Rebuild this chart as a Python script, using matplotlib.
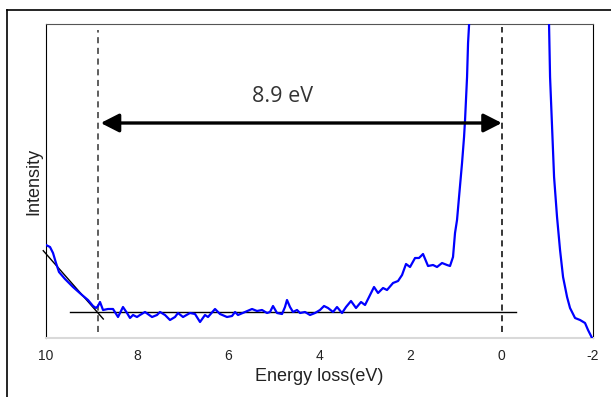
import matplotlib.pyplot as plt
from matplotlib.lines import Line2D

# spectrum (energy loss in eV, intensity in arb. units)
energy = [10.00, 9.912, 9.846, 9.781, 9.715, 9.583, 9.408, 9.210, 9.079, 8.969,
          8.903, 8.859, 8.815, 8.749, 8.640, 8.530, 8.420, 8.311, 8.223, 8.157,
          8.091, 8.004, 7.938, 7.828, 7.674, 7.565, 7.499, 7.389, 7.280, 7.170,
          7.104, 6.994, 6.841, 6.731, 6.621, 6.512, 6.446, 6.292, 6.183, 6.029,
          5.919, 5.853, 5.788, 5.634, 5.480, 5.371, 5.261, 5.151, 5.086, 5.020,
          4.932, 4.822, 4.757, 4.713, 4.647, 4.581, 4.493, 4.427, 4.318, 4.208,
          4.098, 3.989, 3.901, 3.813, 3.703, 3.616, 3.506, 3.418, 3.309, 3.199,
          3.089, 3.001, 2.913, 2.804, 2.716, 2.606, 2.519, 2.387, 2.277, 2.189,
          2.102, 2.014, 1.904, 1.817, 1.729, 1.619, 1.509, 1.422, 1.312, 1.202,
          1.137, 1.071, 1.027, 0.983, 0.939, 0.873, 0.829, 0.807, 0.763, 0.741,
          0.719, 0.588, 0.259, -0.158, -0.619, -0.948, -1.036, -1.058, -1.102,
          -1.146, -1.211, -1.277, -1.343, -1.431, -1.496, -1.606, -1.716, -1.825,
          -1.891, -1.979]
intensity = [93, 91, 85, 75, 66, 59, 51, 43, 38, 32,
             30, 32, 36, 28, 29, 29, 21, 31, 25, 20,
             23, 21, 23, 26, 21, 23, 26, 23, 18, 21,
             25, 21, 25, 24, 16, 23, 21, 29, 24, 21,
             22, 26, 23, 26, 29, 27, 28, 25, 26, 32,
             25, 24, 31, 38, 31, 26, 28, 25, 26, 23,
             25, 28, 32, 30, 26, 31, 25, 31, 37, 30,
             36, 33, 41, 51, 45, 50, 48, 55, 57, 63,
             74, 71, 80, 80, 84, 72, 73, 71, 75, 73,
             72, 81, 105, 118, 141, 175, 201, 218, 261, 295,
             313, 600, 1500, 2000, 1500, 500, 313, 261, 211,
             161, 121, 88, 61, 41, 30, 20, 18, 15,
             8, 0]

onset = 8.86
zero = 0.0
gap_label = "8.9 eV"
xticks = [10, 8, 6, 4, 2, 0, -2]

# background fit lines
base_x = [9.473, -0.305]
base_y = [26.3, 26.3]
tan_x = [10.06, 8.743]
tan_y = [87.3, 19.0]

fig = plt.figure(figsize=(6.11, 3.97), dpi=100)
ax = fig.add_axes([46 / 611, 59 / 397, 547 / 611, 314 / 397])

ax.plot(energy, intensity, color="#0000ff", lw=1.6, zorder=3,
        solid_joinstyle="round")
ax.plot(base_x, base_y, color="black", lw=1.0, zorder=2)
ax.plot(tan_x, tan_y, color="black", lw=1.0, zorder=2, clip_on=False)
ax.plot([onset, onset], [6, 308], color="#333333", lw=1.1, ls=(0, (4, 3)))
ax.plot([zero, zero], [6, 311], color="black", lw=1.1, ls=(0, (4, 3)))

ax.annotate("", xy=(zero, 215), xytext=(8.8, 215),
            arrowprops=dict(arrowstyle="<|-|>,head_length=0.55,head_width=0.28",
                            color="black", lw=2.4, mutation_scale=20,
                            shrinkA=0, shrinkB=0))
ax.text(4.80, 241, gap_label, ha="center", va="center", fontsize=15.5,
        color="#333333", family="Open Sans")

ax.set_xlim(10, -2)
ax.set_ylim(0, 314)
ax.set_xticks(xticks)
ax.set_xticklabels([str(t) for t in xticks], family="Liberation Sans",
                   fontsize=10, color="#222222")
ax.set_yticks([])
ax.tick_params(axis="x", length=0, pad=8)

ax.spines["left"].set_color("black")
ax.spines["right"].set_color("black")
ax.spines["top"].set_color("#555555")
ax.spines["bottom"].set_color("#d9d9d9")
ax.spines["bottom"].set_linewidth(1.5)

ax.set_xlabel("Energy loss(eV)", family="Liberation Sans", fontsize=13, color="#222222")
ax.set_ylabel("Intensity", family="Liberation Sans", fontsize=13, color="#222222")
ax.xaxis.set_label_coords(0.5, -0.096)
ax.yaxis.set_label_coords(-0.006, 0.5)

# outer frame
fig.add_artist(Line2D([7 / 611, 7 / 611], [0, 1 - 10 / 397], color="black", lw=1.2))
fig.add_artist(Line2D([7 / 611, 1], [1 - 10 / 397, 1 - 10 / 397], color="black", lw=1.2))

fig.savefig("out.png", dpi=100)
